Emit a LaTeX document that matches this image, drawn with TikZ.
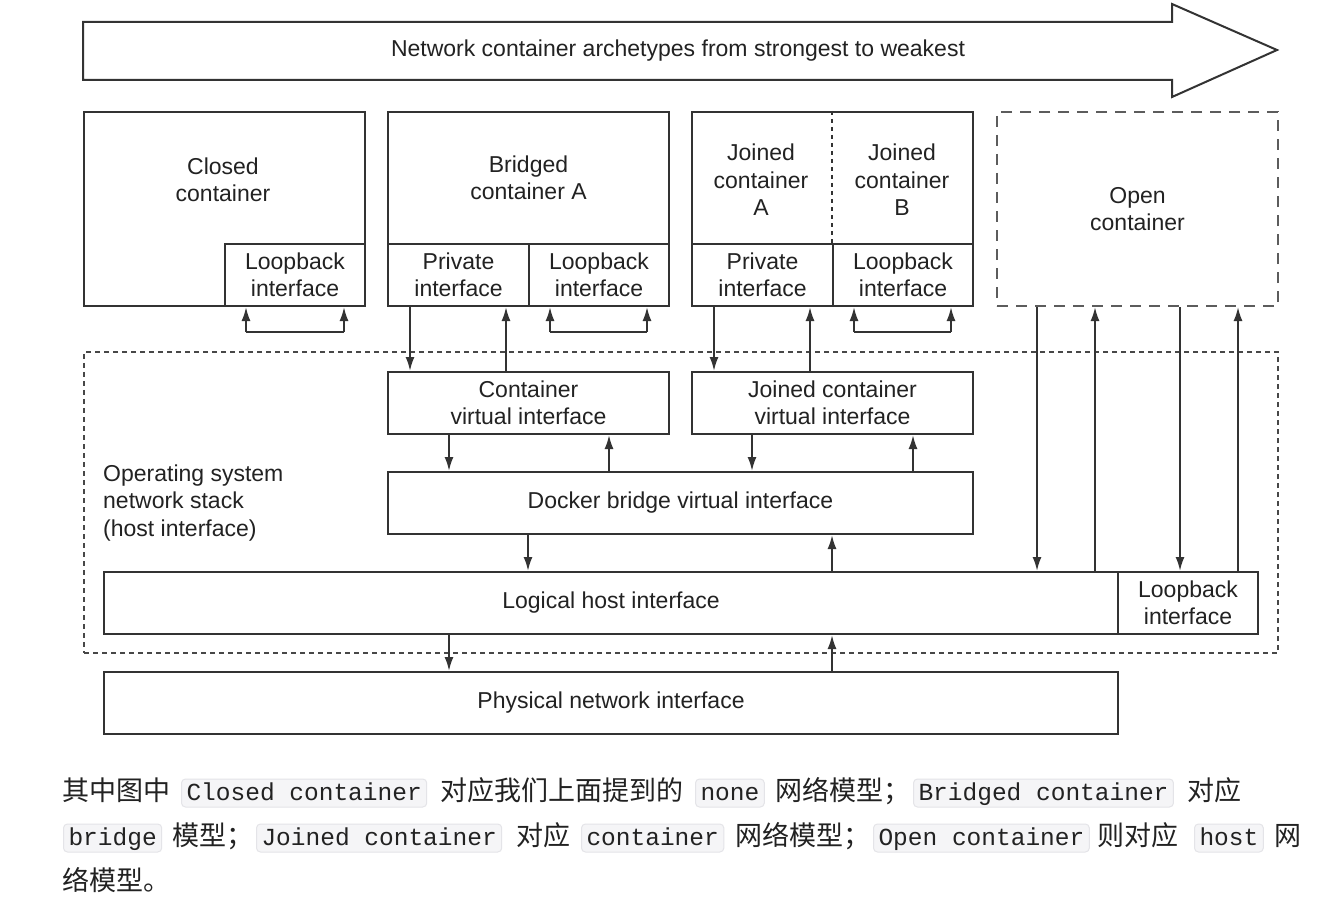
\documentclass[tikz,border=0pt]{standalone}
\usepackage{fontspec}
\setmainfont{Liberation Sans}
\setmonofont{Liberation Mono}
\newfontfamily\cjk{Noto Sans CJK SC}
\usetikzlibrary{arrows.meta}
\definecolor{ln}{HTML}{333333}
\definecolor{txt}{HTML}{222222}
\definecolor{codebg}{HTML}{F5F5F7}
\definecolor{codeln}{HTML}{E4E4E8}
\tikzset{
  lbl/.style={font=\fontsize{23}{27.5}\selectfont, text=txt, align=center, inner sep=0pt},
  box/.style={draw=ln, line width=2pt, rectangle, anchor=north west, inner sep=0pt,
              font=\fontsize{23}{27.5}\selectfont, text=txt, align=center},
  dbox/.style={box, dash pattern=on 11pt off 8pt, draw=ln!80},
  obox/.style={box, dash pattern=on 5pt off 4pt, draw=ln!90},
  arr/.style={draw=ln, line width=2pt, -{Latex[length=14pt,width=9pt]}},
  lin/.style={draw=ln, line width=2pt},
  cn/.style={font=\cjk\fontsize{27}{30}\selectfont, text=txt, anchor=base west, inner sep=0pt},
  code/.style={font=\ttfamily\fontsize{24.5}{30}\selectfont, text=txt, anchor=base west,
               fill=codebg, draw=codeln, line width=1pt, rounded corners=4pt,
               inner xsep=5pt, inner ysep=0pt, text height=21pt, text depth=7pt},
}
\begin{document}
\begin{tikzpicture}[x=1pt,y=-1pt]
\useasboundingbox (0,0) rectangle (1340,912);
\fill[white] (0,0) rectangle (1340,912);

% big arrow
\draw[lin] (83,22) -- (1172,22) -- (1172,4) -- (1277,50) -- (1172,97) -- (1172,80) -- (83,80) -- cycle;
\node[lbl] (title) at (678,51) {Network container archetypes from strongest to weakest};

% Closed container
\node[box, minimum width=281pt, minimum height=194pt] (closed) at (83,111) {};
\node[lbl] (closedt) at (223,180) {Closed\\container};
\node[box, minimum width=140pt, minimum height=62pt] (closedlo) at (224,243) {Loopback\\interface};

% Bridged container
\node[box, minimum width=281pt, minimum height=132pt] (bridged) at (387,111) {Bridged\\container A};
\node[box, minimum width=141pt, minimum height=62pt] (bpriv) at (387,243) {Private\\interface};
\node[box, minimum width=140pt, minimum height=62pt] (blo) at (528,243) {Loopback\\interface};

% Joined containers
\node[box, minimum width=281pt, minimum height=132pt] (joined) at (691,111) {};
\draw[lin, dash pattern=on 4pt off 4pt, line width=1.4pt] (joined.north -| 832,0) -- (joined.south -| 832,0);
\node[lbl] (ja) at (761,180) {Joined\\container\\A};
\node[lbl] (jb) at (902,180) {Joined\\container\\B};
\node[box, minimum width=141pt, minimum height=62pt] (jpriv) at (691,243) {Private\\interface};
\node[box, minimum width=140pt, minimum height=62pt] (jlo) at (832,243) {Loopback\\interface};

% Open container
\node[dbox, minimum width=281pt, minimum height=194pt] (open) at (996,111) {Open\\container};

% OS network stack
\node[obox, minimum width=1194pt, minimum height=301pt] (os) at (83,351) {};
\node[lbl, align=left, anchor=west] (ost) at (103,503) {Operating system\\network stack\\(host interface)};

\node[box, minimum width=281pt, minimum height=62pt] (cvi) at (387,371) {Container\\virtual interface};
\node[box, minimum width=281pt, minimum height=62pt] (jcvi) at (691,371) {Joined container\\virtual interface};
\node[box, minimum width=585pt, minimum height=62pt] (dbr) at (387,471) {Docker bridge virtual interface};
\node[box, minimum width=1014pt, minimum height=62pt] (lhi) at (103,571) {Logical host interface};
\node[box, minimum width=140pt, minimum height=62pt] (hlo) at (1117,571) {Loopback\\interface};
\node[box, minimum width=1014pt, minimum height=62pt] (phy) at (103,671) {Physical network interface};

% loopback loops
\coordinate (l1) at (246,332);
\coordinate (l2) at (344,332);
\draw[arr] (l1) -- (closedlo.south -| l1);
\draw[lin] (l1) -- (l2);
\draw[arr] (l2) -- (closedlo.south -| l2);
\coordinate (l3) at (550,332);
\coordinate (l4) at (647,332);
\draw[arr] (l3) -- (blo.south -| l3);
\draw[lin] (l3) -- (l4);
\draw[arr] (l4) -- (blo.south -| l4);
\coordinate (l5) at (854,332);
\coordinate (l6) at (951,332);
\draw[arr] (l5) -- (jlo.south -| l5);
\draw[lin] (l5) -- (l6);
\draw[arr] (l6) -- (jlo.south -| l6);

% private <-> virtual interfaces
\draw[arr] (bpriv.south -| 410,0) -- (cvi.north -| 410,0);
\draw[arr] (cvi.north -| 506,0) -- (bpriv.south -| 506,0);
\draw[arr] (jpriv.south -| 714,0) -- (jcvi.north -| 714,0);
\draw[arr] (jcvi.north -| 810,0) -- (jpriv.south -| 810,0);

% virtual <-> docker bridge
\draw[arr] (cvi.south -| 449,0) -- (dbr.north -| 449,0);
\draw[arr] (dbr.north -| 609,0) -- (cvi.south -| 609,0);
\draw[arr] (jcvi.south -| 752,0) -- (dbr.north -| 752,0);
\draw[arr] (dbr.north -| 913,0) -- (jcvi.south -| 913,0);

% docker bridge <-> logical host
\draw[arr] (dbr.south -| 528,0) -- (lhi.north -| 528,0);
\draw[arr] (lhi.north -| 832,0) -- (dbr.south -| 832,0);

% open container <-> host
\draw[arr] (open.south -| 1037,0) -- (lhi.north -| 1037,0);
\draw[arr] (lhi.north -| 1095,0) -- (open.south -| 1095,0);
\draw[arr] (open.south -| 1180,0) -- (hlo.north -| 1180,0);
\draw[arr] (hlo.north -| 1238,0) -- (open.south -| 1238,0);

% logical host <-> physical
\draw[arr] (lhi.south -| 449,0) -- (phy.north -| 449,0);
\draw[arr] (phy.north -| 832,0) -- (lhi.south -| 832,0);

% caption text
\node[cn] (c1) at (62,800) {其中图中};
\node[code] (k1) at (181,800) {Closed container};
\node[cn] (c2) at (440,800) {对应我们上面提到的};
\node[code] (k2) at (695,800) {none};
\node[cn] (c3) at (775,800) {网络模型；};
\node[code] (k3) at (913,800) {Bridged container};
\node[cn] (c4) at (1187,800) {对应};

\node[code] (k4) at (63,845) {bridge};
\node[cn] (c5) at (172,845) {模型；};
\node[code] (k5) at (256,845) {Joined container};
\node[cn] (c6) at (516,845) {对应};
\node[code] (k6) at (581,845) {container};
\node[cn] (c7) at (735,845) {网络模型；};
\node[code] (k7) at (873,845) {Open container};
\node[cn] (c8) at (1097,845) {则对应};
\node[code] (k8) at (1194,845) {host};
\node[cn] (c9) at (1274,845) {网};

\node[cn] (c10) at (62,890) {络模型。};
\end{tikzpicture}
\end{document}
